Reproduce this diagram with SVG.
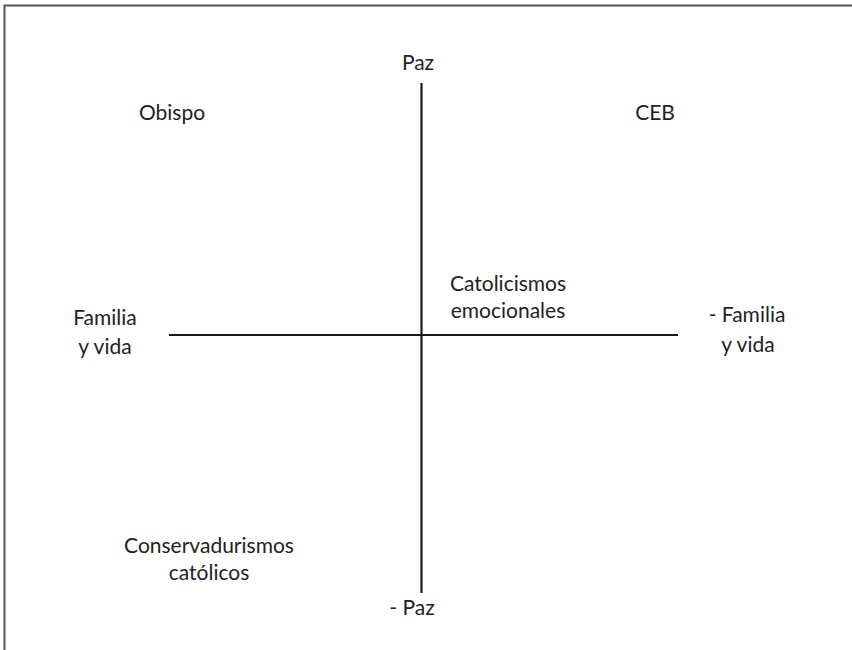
<svg xmlns="http://www.w3.org/2000/svg" width="852" height="650" viewBox="0 0 852 650">
  <style>
    .frame { stroke: #555; stroke-width: 2; fill: none; }
    .axis { stroke: #1a1a1a; stroke-width: 2.2; fill: none; }
    text { font-family: Lato, "Open Sans", "Liberation Sans", sans-serif; font-size: 21px; fill: #222; text-anchor: middle; }
  </style>
  <rect width="852" height="650" fill="#fff"/>
  <!-- outer frame (top and left edges only) -->
  <path class="frame" d="M4.5 650 V5.5 H852"/>
  <g id="connectors">
    <line class="axis" x1="421.5" y1="83" x2="421.5" y2="593"/>
    <line class="axis" x1="169" y1="335" x2="678" y2="335"/>
  </g>
  <g id="paz"><text x="418" y="70">Paz</text></g>
  <g id="menos-paz"><text x="412" y="615">- Paz</text></g>
  <g id="familia"><text x="105" y="325">Familia</text><text x="105" y="354">y vida</text></g>
  <g id="menos-familia"><text x="747" y="322">- Familia</text><text x="748" y="352">y vida</text></g>
  <g id="obispo"><text x="172" y="120">Obispo</text></g>
  <g id="ceb"><text x="655" y="120">CEB</text></g>
  <g id="catolicismos"><text x="508" y="291">Catolicismos</text><text x="508" y="318">emocionales</text></g>
  <g id="conservadurismos"><text x="209" y="553">Conservadurismos</text><text x="209" y="580">católicos</text></g>
</svg>
